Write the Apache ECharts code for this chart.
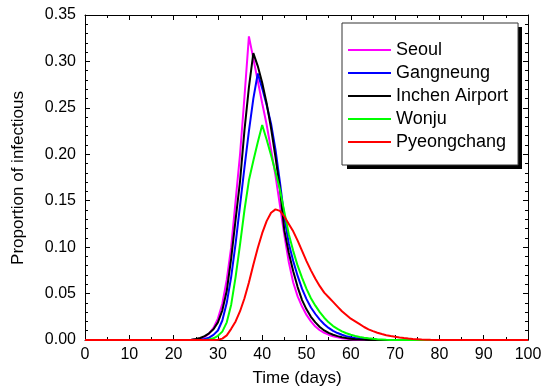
<!DOCTYPE html>
<html>
<head>
<meta charset="utf-8">
<script src="https://cdn.jsdelivr.net/npm/echarts@6/dist/echarts.min.js"></script>
<style>html,body{margin:0;padding:0;background:#fff;}#c{width:552px;height:387px;}</style>
</head>
<body>
<div id="c"></div>
<script>
// Sample days (0, then 22..84, then 100)
const days = [0,22,23,24,25,26,27,28,29,30,31,32,33,34,35,36,37,38,39,40,41,42,43,44,45,46,47,48,49,50,51,52,53,54,55,56,57,58,59,60,61,62,63,64,65,66,67,68,69,70,71,72,73,74,75,76,77,78,79,80,81,82,83,84,100];

const seoul = [0,0,0,0.0002,0.0006,0.0015,0.0033,0.0068,0.013,0.023,0.039,0.065,0.100,0.150,0.200,0.262,0.327,0.303,0.279,0.255,0.232,0.205,0.177,0.145,0.113,0.084,0.062,0.047,0.036,0.027,0.020,0.0145,0.0105,0.0078,0.0057,0.0041,0.0029,0.002,0.0013,0.0008,0.0005,0.0003,0.0001,0,0,0,0,0,0,0,0,0,0,0,0,0,0,0,0,0,0,0,0,0,0];

const gangneung = [0,0,0,0,0,0.0003,0.001,0.0025,0.0055,0.0102,0.021,0.040,0.068,0.104,0.145,0.186,0.225,0.260,0.287,0.271,0.253,0.233,0.205,0.170,0.132,0.104,0.085,0.069,0.055,0.044,0.035,0.028,0.022,0.017,0.013,0.0098,0.0075,0.0056,0.0042,0.0031,0.0022,0.0015,0.001,0.0006,0.0003,0.0001,0,0,0,0,0,0,0,0,0,0,0,0,0,0,0,0,0,0,0];

const incheon = [0,0,0.0001,0.0004,0.001,0.0022,0.0042,0.0072,0.0115,0.019,0.032,0.053,0.088,0.130,0.171,0.226,0.272,0.309,0.295,0.277,0.255,0.228,0.197,0.163,0.118,0.094,0.074,0.057,0.043,0.033,0.025,0.019,0.014,0.0103,0.0077,0.0057,0.0042,0.003,0.0021,0.0014,0.0009,0.0005,0.0003,0.0001,0,0,0,0,0,0,0,0,0,0,0,0,0,0,0,0,0,0,0,0,0];

const wonju = [0,0,0,0,0,0,0,0.0006,0.0018,0.0045,0.009,0.019,0.038,0.068,0.103,0.140,0.172,0.193,0.213,0.2315,0.216,0.199,0.181,0.162,0.138,0.114,0.096,0.080,0.067,0.055,0.045,0.037,0.030,0.024,0.019,0.015,0.012,0.0093,0.0073,0.0057,0.0044,0.0033,0.0025,0.0018,0.0013,0.0009,0.0006,0.0003,0.0001,0,0,0,0,0,0,0,0,0,0,0,0,0,0,0,0];

const pyeongchang = [0,0,0,0,0,0,0,0,0,0.0003,0.0015,0.005,0.012,0.020,0.031,0.045,0.062,0.081,0.099,0.115,0.128,0.137,0.1407,0.139,0.133,0.125,0.117,0.107,0.096,0.085,0.075,0.066,0.058,0.051,0.046,0.041,0.036,0.031,0.027,0.023,0.020,0.017,0.014,0.0115,0.0095,0.0078,0.0064,0.0052,0.0042,0.0034,0.0027,0.0021,0.0016,0.0012,0.0009,0.0006,0.0004,0.0002,0.0001,0,0,0,0,0,0];

const seriesNames = ['Seoul','Gangneung','Inchen Airport','Wonju','Pyeongchang'];
const seriesData = [seoul, gangneung, incheon, wonju, pyeongchang];
const seriesColors = ['#ff00ff','#0000ff','#000000','#00ff00','#ff0000'];

const FONT = 'Liberation Sans, Arial, sans-serif';
const chart = echarts.init(document.getElementById('c'), null, {renderer:'canvas'});

function xAx(pos, showLabel){
  return {
    type:'value', position:pos, min:0, max:100, interval:10,
    axisLine:{show:true, onZero:false, lineStyle:{color:'#000', width:1}},
    axisTick:{show:true, inside:true, length:5, lineStyle:{color:'#000'}},
    minorTick:{show:true, splitNumber:2, length:3, lineStyle:{color:'#000'}},
    splitLine:{show:false}, minorSplitLine:{show:false},
    axisLabel:{show:showLabel, color:'#000', fontSize:16, fontFamily:FONT, margin:7}
  };
}
function yAx(pos, showLabel){
  return {
    type:'value', position:pos, min:0, max:0.35, interval:0.05,
    axisLine:{show:true, onZero:false, lineStyle:{color:'#000', width:1}},
    axisTick:{show:true, inside:true, length:5, lineStyle:{color:'#000'}},
    minorTick:{show:true, splitNumber:5, length:3, lineStyle:{color:'#000'}},
    splitLine:{show:false}, minorSplitLine:{show:false},
    axisLabel:{show:showLabel, color:'#000', fontSize:16, fontFamily:FONT, margin:9,
      formatter:function(v){return v.toFixed(2);}}
  };
}

const option = {
  animation:false,
  backgroundColor:'#fff',
  grid:{left:85, right:24, top:15, bottom:47, containLabel:false},
  xAxis:[xAx('bottom', true), xAx('top', false)],
  yAxis:[yAx('left', true), yAx('right', false)],
  legend:{
    orient:'vertical', left:342, top:23, z:5,
    data:seriesNames,
    itemWidth:43, itemHeight:14, itemGap:5,
    padding:[18,10,14,5],
    backgroundColor:'#fff', borderColor:'#333', borderWidth:1,
    itemStyle:{color:'rgba(0,0,0,0)', borderWidth:0, opacity:0},
    textStyle:{color:'#000', fontSize:18, lineHeight:18, fontFamily:FONT},
    selectedMode:false
  },
  graphic:[
    {type:'rect', z:4, shape:{x:347, y:27, width:175, height:142}, style:{fill:'#000'}},
    {type:'text', position:[297,378], style:{text:'Time (days)', font:'17px '+FONT, fill:'#000', textAlign:'center', textVerticalAlign:'middle'}},
    {type:'text', position:[18,178], rotation:Math.PI/2, style:{text:'Proportion of infectious', font:'17px '+FONT, fill:'#000', textAlign:'center', textVerticalAlign:'middle'}}
  ],
  series: seriesNames.map(function(n,i){
    return {
      name:n, type:'line', xAxisIndex:0, yAxisIndex:0,
      data: days.map(function(d,j){return [d, seriesData[i][j]];}),
      symbol:'none', smooth:false,
      lineStyle:{color:seriesColors[i], width:2},
      itemStyle:{color:seriesColors[i]},
      z:2+i
    };
  })
};
chart.setOption(option);
</script>
</body>
</html>
